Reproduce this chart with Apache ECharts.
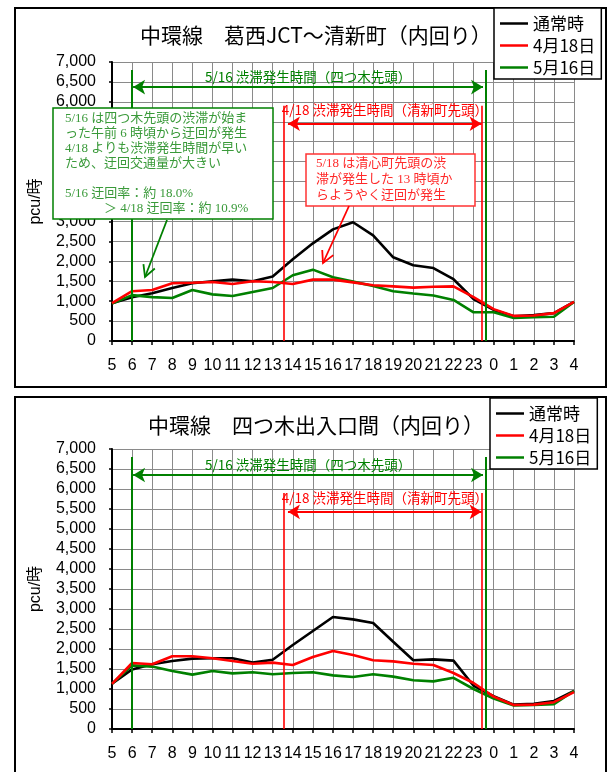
<!DOCTYPE html>
<html><head><meta charset="utf-8">
<script src="https://cdn.jsdelivr.net/npm/echarts@6/dist/echarts.min.js"></script>
<style>html,body{margin:0;padding:0;background:#fff}#c{width:613px;height:772px}</style>
</head><body><div id="c"></div>
<script>
// ---------- data ----------
const hours = ['5','6','7','8','9','10','11','12','13','14','15','16','17','18','19','20','21','22','23','0','1','2','3','4'];
const seriesNames = ['通常時', '4月18日', '5月16日'];
const titles = ['中環線　葛西JCT～清新町（内回り）', '中環線　四つ木出入口間（内回り）'];
const yTicks = [0, 7000, 500]; // min, max, step

// Chart 1: 葛西JCT～清新町
const kasaiNormal = [950,1100,1200,1330,1450,1500,1540,1500,1620,2050,2450,2800,2980,2650,2100,1900,1830,1550,1050,780,620,650,700,980];
const kasaiApr18  = [950,1250,1280,1450,1460,1480,1430,1500,1480,1430,1540,1540,1470,1400,1370,1340,1360,1370,1100,800,630,640,700,980];
const kasaiMay16  = [940,1150,1100,1080,1280,1170,1130,1230,1330,1650,1790,1600,1490,1380,1250,1190,1140,1030,720,720,580,600,610,980];

// Chart 2: 四つ木出入口間
const yotsugiNormal = [1130,1490,1620,1700,1760,1770,1770,1660,1730,2100,2450,2800,2740,2650,2180,1720,1740,1710,1080,820,610,630,700,950];
const yotsugiApr18  = [1130,1650,1620,1820,1820,1770,1700,1630,1660,1600,1800,1950,1850,1720,1690,1630,1600,1400,1150,810,600,610,670,920];
const yotsugiMay16  = [1130,1590,1560,1450,1360,1450,1390,1420,1370,1400,1420,1340,1300,1370,1310,1220,1190,1280,1000,760,590,600,620,950];

// congestion periods (positions on the hour axis, index units) and marker heights
const may16Period = [1.0, 18.6];     // 5/16 congestion (四つ木先頭)
const apr18Period = [8.53, 18.42];   // 4/18 congestion (清新町先頭)
const may16Arrow  = [1.05, 18.47];
const apr18Arrow  = [8.76, 18.4];
const may16LineTop = 6800, apr18LineTop = 5900;
const may16ArrowY = [6370, 6350];
const apr18ArrowY = [5450, 5430];
const may16Label = '5/16 渋滞発生時間（四つ木先頭）';
const apr18Label = '4/18 渋滞発生時間（清新町先頭）';

// ---------- chart ----------
const chart = echarts.init(document.getElementById('c'));
const FONT = '"Liberation Sans", "Noto Sans CJK JP", sans-serif';
const CJK = '"Noto Sans CJK JP", sans-serif';
const colors = ['#000000', '#ff0000', '#008000'];
const GREEN = '#008000', RED = '#ff0000';

function pairs(arr) { return arr.map((v, i) => [i, v]); }

function xAxis(gi) {
  return {
    type: 'value', gridIndex: gi, min: 0, max: hours.length - 1, interval: 1,
    axisLine: { show: true, onZero: false, lineStyle: { color: '#000', width: 2 } },
    axisTick: { show: true, inside: false, length: 4, lineStyle: { color: '#000', width: 1.5 } },
    axisLabel: { formatter: v => hours[Math.round(v)], fontSize: 16, color: '#000', margin: 17, fontFamily: FONT, hideOverlap: false },
    splitLine: { show: true, lineStyle: { color: '#8a8a8a', width: 1 } }
  };
}
function yAxis(gi) {
  return {
    type: 'value', gridIndex: gi, min: yTicks[0], max: yTicks[1], interval: yTicks[2],
    name: 'pcu/時', nameLocation: 'middle', nameGap: 68,
    nameTextStyle: { fontSize: 16, color: '#000', fontFamily: FONT },
    axisLine: { show: true, lineStyle: { color: '#000', width: 2 } },
    axisTick: { show: true, length: 3, lineStyle: { color: '#000', width: 1.5 } },
    axisLabel: { fontSize: 16, color: '#000', margin: 16, fontFamily: FONT },
    splitLine: { show: true, lineStyle: { color: '#8a8a8a', width: 1 } }
  };
}
function lineSeries(name, data, gi, color) {
  return {
    name, type: 'line', xAxisIndex: gi, yAxisIndex: gi, data: pairs(data),
    symbol: 'none', lineStyle: { color, width: 2.6 }, itemStyle: { color }, z: 3, silent: true
  };
}
function vMarks(period, top, gi, color, width) {
  return {
    type: 'line', xAxisIndex: gi, yAxisIndex: gi, data: [], silent: true,
    markLine: {
      silent: true, symbol: ['none', 'none'], animation: false,
      lineStyle: { color, width, type: 'solid' }, label: { show: false },
      data: period.map(x => [{ coord: [x, 0] }, { coord: [x, top] }])
    }, z: 4
  };
}
function hArrow(span, y, gi, color, text, dist) {
  return {
    type: 'line', xAxisIndex: gi, yAxisIndex: gi, data: [], silent: true,
    markLine: {
      silent: true, symbol: ['arrow', 'arrow'], symbolSize: [11, 12], animation: false,
      lineStyle: { color, width: 2, type: 'solid' },
      label: { show: true, position: 'middle', formatter: text, color, fontSize: 13.5, fontFamily: CJK, distance: dist },
      data: [[{ coord: [span[0], y] }, { coord: [span[1], y] }]]
    }, z: 4
  };
}

const series = [
  lineSeries(seriesNames[0], kasaiNormal, 0, colors[0]),
  lineSeries(seriesNames[2], kasaiMay16, 0, colors[2]),
  lineSeries(seriesNames[1], kasaiApr18, 0, colors[1]),
  lineSeries(seriesNames[0], yotsugiNormal, 1, colors[0]),
  lineSeries(seriesNames[2], yotsugiMay16, 1, colors[2]),
  lineSeries(seriesNames[1], yotsugiApr18, 1, colors[1]),
];
[0, 1].forEach(gi => {
  series.push(vMarks(may16Period, may16LineTop, gi, GREEN, 2));
  series.push(vMarks(apr18Period, apr18LineTop, gi, RED, 1.6));
  series.push(hArrow(may16Arrow, may16ArrowY[gi], gi, GREEN, may16Label, 3));
  series.push(hArrow(apr18Arrow, apr18ArrowY[gi], gi, RED, apr18Label, 7));
});

function legend(left, top) {
  return {
    data: seriesNames, orient: 'vertical', left, top, icon: 'rect', itemWidth: 28, itemHeight: 2.5, itemGap: 5,
    padding: [7, 6, 3, 6], backgroundColor: '#fff', borderColor: '#000', borderWidth: 1.5,
    textStyle: { fontSize: 17, color: '#000', fontFamily: CJK, padding: [0, 0, 0, 0] },
    selectedMode: false, z: 20
  };
}

function arrowGraphic(x1, y1, x2, y2, color) {
  const dx = x2 - x1, dy = y2 - y1, L = Math.hypot(dx, dy);
  const ux = dx / L, uy = dy / L, a = 28 * Math.PI / 180, len = 13;
  const arm = s => {
    const c = Math.cos(s * a), sn = Math.sin(s * a);
    const rx = ux * c - uy * sn, ry = ux * sn + uy * c;
    return [x2 - rx * len, y2 - ry * len];
  };
  return [
    { type: 'line', shape: { x1, y1, x2, y2 }, style: { stroke: color, lineWidth: 1.8 }, z: 10 },
    { type: 'polyline', shape: { points: [arm(1), [x2, y2], arm(-1)] }, style: { stroke: color, lineWidth: 1.8, fill: null }, z: 10 }
  ];
}

const SERIF = '13px "Liberation Serif", "Noto Sans CJK JP", serif';
const greenNote = [
  '5/16 は四つ木先頭の渋滞が始ま',
  'った午前 6 時頃から迂回が発生',
  '4/18 よりも渋滞発生時間が早い',
  'ため、迂回交通量が大きい',
  '',
  '5/16 迂回率：約 18.0%',
  '　　　＞ 4/18 迂回率：約 10.9%'
];
const redNote = [
  '5/18 は清心町先頭の渋',
  '滞が発生した 13 時頃か',
  'らようやく迂回が発生'
];

const graphics = [
  { type: 'rect', shape: { x: 15, y: 8, width: 591, height: 379 }, style: { stroke: '#000', lineWidth: 2, fill: null }, z: 0 },
  { type: 'rect', shape: { x: 15, y: 397, width: 591, height: 420 }, style: { stroke: '#000', lineWidth: 2, fill: null }, z: 0 },
  { type: 'rect', shape: { x: 53, y: 108, width: 220, height: 111 }, style: { stroke: GREEN, lineWidth: 1.5, fill: '#fff' }, z: 9 },
  { type: 'text', x: 65, y: 111, style: { text: greenNote.join('\n'), font: SERIF, lineHeight: 15, fill: '#3a9a3a' }, z: 10 },
  { type: 'rect', shape: { x: 306, y: 154, width: 169, height: 52 }, style: { stroke: '#ff3333', lineWidth: 1.5, fill: '#fff' }, z: 9 },
  { type: 'text', x: 316, y: 156, style: { text: redNote.join('\n'), font: SERIF, lineHeight: 16, fill: '#ff2a2a' }, z: 10 },
  ...arrowGraphic(167, 220, 145, 277, GREEN),
  ...arrowGraphic(349, 206, 323, 263, RED)
];

chart.setOption({
  animation: false,
  textStyle: { fontFamily: FONT },
  title: [
    { text: titles[0], left: 135, top: 20, textStyle: { fontSize: 21, fontWeight: 'normal', color: '#000', fontFamily: CJK } },
    { text: titles[1], left: 143, top: 410, textStyle: { fontSize: 21, fontWeight: 'normal', color: '#000', fontFamily: CJK } }
  ],
  legend: [legend(494, 8), legend(490, 398)],
  grid: [
    { left: 112, top: 62, width: 462, height: 279, containLabel: false },
    { left: 112, top: 449, width: 462, height: 280, containLabel: false }
  ],
  xAxis: [xAxis(0), xAxis(1)],
  yAxis: [yAxis(0), yAxis(1)],
  series,
  graphic: graphics
});
</script>
</body></html>
